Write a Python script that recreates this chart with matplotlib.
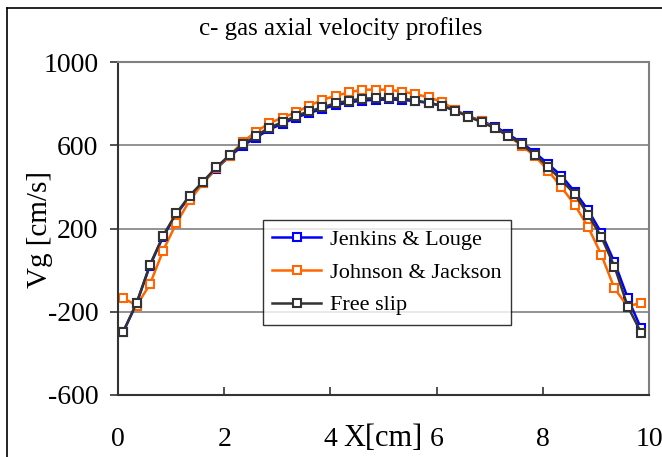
import matplotlib
matplotlib.use("Agg")
import matplotlib.pyplot as plt
from matplotlib.lines import Line2D

x_cm = [0.1, 0.35, 0.6, 0.85, 1.1, 1.35, 1.6, 1.85, 2.1, 2.35,
        2.6, 2.85, 3.1, 3.35, 3.6, 3.85, 4.1, 4.35, 4.6, 4.85,
        5.1, 5.35, 5.6, 5.85, 6.1, 6.35, 6.6, 6.85, 7.1, 7.35,
        7.6, 7.85, 8.1, 8.35, 8.6, 8.85, 9.1, 9.35, 9.6, 9.85]

jenkins_louge = [-295, -160, 21, 161, 269, 353, 420, 488, 546, 598,
                 637, 676, 704, 733, 755, 775, 793, 806, 815, 818,
                 820, 818, 812, 803, 790, 768, 740, 716, 690, 653,
                 612, 565, 510, 453, 377, 290, 180, 38, -134, -280]

johnson_jackson = [-134, -170, -69, 94, 226, 335, 418, 490, 549, 616,
                   665, 706, 733, 758, 790, 818, 838, 854, 867, 867,
                   867, 858, 846, 830, 809, 770, 737, 716, 682, 645,
                   598, 549, 478, 399, 314, 209, 75, -88, -175, -156]

free_slip = [-296, -158, 24, 166, 274, 358, 425, 494, 552, 605,
             645, 685, 711, 741, 763, 782, 802, 814, 824, 826,
             826, 826, 814, 805, 789, 766, 737, 711, 682, 645,
             606, 555, 497, 432, 366, 267, 161, 17, -175, -300]

series_names = ["Jenkins & Louge", "Johnson & Jackson", "Free slip"]
series_colors = ["#0000FF", "#FF6600", "#333333"]
y_ticks = [-600, -200, 200, 600, 1000]
x_ticks = [0, 2, 4, 6, 8, 10]

plt.rcParams['font.family'] = ['Liberation Serif', 'DejaVu Serif']

fig = plt.figure(figsize=(6.62, 4.57), dpi=100)
ax = fig.add_axes([118/662, 1-395/457, (649-118)/662, (395-62)/457])

for ys, name, col in zip([jenkins_louge, johnson_jackson, free_slip], series_names, series_colors):
    ax.plot(x_cm, ys, color=col, lw=1.8, marker='s', markersize=5.2,
            markerfacecolor='white', markeredgecolor=col, markeredgewidth=1.5,
            label=name)

ax.set_xlim(0, 10)
ax.set_ylim(-600, 1000)
ax.set_xticks(x_ticks)
ax.set_yticks(y_ticks)
ax.set_xticklabels([str(t) for t in x_ticks])
ax.set_yticklabels([str(t) for t in y_ticks])
ax.tick_params(axis='y', direction='out', length=6, width=1.2, pad=8, labelsize=20, color='#333333')
ax.tick_params(axis='x', direction='in', length=6, width=1.2, pad=23, labelsize=20, color='#333333')

ax.yaxis.grid(True, color='#808080', lw=1.2)
ax.set_axisbelow(True)
for s in ['top', 'right']:
    ax.spines[s].set_color('#808080')
    ax.spines[s].set_linewidth(1.5)
for s in ['left', 'bottom']:
    ax.spines[s].set_color('#333333')
    ax.spines[s].set_linewidth(1.5)

leg = ax.legend(loc='upper left', bbox_to_anchor=((263-118)/531, (395-220)/333),
                fontsize=16, frameon=True, fancybox=False, numpoints=1,
                handlelength=2.2, handletextpad=0.4, labelspacing=0.55,
                borderpad=0.42, borderaxespad=0)
leg.get_frame().set_edgecolor('black')
leg.get_frame().set_linewidth(1.0)

fig.text(341/662, 1-35/457, "c- gas axial velocity profiles", ha='center', va='baseline', fontsize=18)
fig.text(40/662, 1-229/457, "Vg [cm/s]", ha='center', va='center', rotation=90, fontsize=21)
fig.text(383/662, 1-438/457, "X[cm]", ha='center', va='center', fontsize=22)

# outer chart border (left and top edges visible)
fig.add_artist(Line2D([7/662, 7/662], [0, 1-8/457], color='black', lw=1.2, transform=fig.transFigure))
fig.add_artist(Line2D([7/662, 1], [1-8/457, 1-8/457], color='black', lw=1.2, transform=fig.transFigure))

fig.savefig("out.png", dpi=100)
